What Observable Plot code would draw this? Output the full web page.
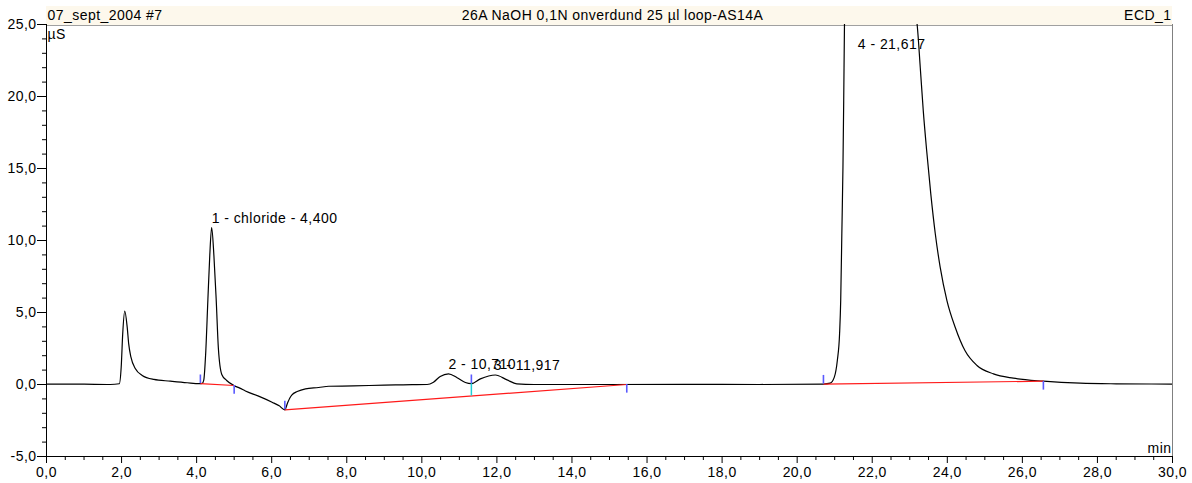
<!DOCTYPE html>
<html><head><meta charset="utf-8">
<script src="https://cdn.jsdelivr.net/npm/d3@7"></script>
<script src="https://cdn.jsdelivr.net/npm/@observablehq/plot@0.6"></script>
<style>
html,body{margin:0;padding:0;background:#fff;}
#chart svg text{letter-spacing:0.45px;}
</style></head><body><div id="chart"></div>
<script>
// Header texts
const headerLeft = "07_sept_2004 #7";
const headerCenter = "26A NaOH 0,1N onverdund 25 µl loop-AS14A";
const headerRight = "ECD_1";
const yUnit = "µS";
const xUnit = "min";

// Axis ticks
const xMajorTicks = [0, 2, 4, 6, 8, 10, 12, 14, 16, 18, 20, 22, 24, 26, 28, 30];
const xMinorTicks = [0.5,1,1.5,2.5,3,3.5,4.5,5,5.5,6.5,7,7.5,8.5,9,9.5,10.5,11,11.5,12.5,13,13.5,14.5,15,15.5,16.5,17,17.5,18.5,19,19.5,20.5,21,21.5,22.5,23,23.5,24.5,25,25.5,26.5,27,27.5,28.5,29,29.5];
const yMajorTicks = [-5, 0, 5, 10, 15, 20, 25];
const yMinorTicks = [-4,-3,-2,-1,1,2,3,4,6,7,8,9,11,12,13,14,16,17,18,19,21,22,23,24];

// Chromatogram (time in min, conductivity in µS)
const times = [0.0, 1.0, 1.70, 1.94, 1.99, 2.03, 2.085, 2.15, 2.19, 2.25, 2.37, 2.55, 2.86, 3.30, 3.75, 4.08,
  4.15, 4.19, 4.24, 4.30, 4.35, 4.40, 4.46, 4.52, 4.58, 4.67, 4.80, 5.00, 5.15, 5.30, 5.65, 6.01, 6.20, 6.35,
  6.42, 6.48, 6.54, 6.68, 6.90, 7.25, 7.52, 8.18, 9.00, 9.50, 10.14, 10.31, 10.49, 10.71, 10.94, 11.16, 11.32,
  11.56, 11.96, 12.27, 12.53, 13.0, 15.0, 17.0, 19.0, 20.70, 20.88, 20.99, 21.07, 21.13, 21.16, 21.19, 21.22,
  21.24, 21.26, 21.30, 21.40, 21.62, 21.90, 22.30, 22.70, 23.00, 23.20, 23.28, 23.36, 23.45, 23.56, 23.68,
  23.81, 23.99, 24.21, 24.47, 24.79, 25.23, 25.76, 26.56, 27.54, 28.5, 30.0];
const signal = [0.03, 0.02, 0.0, 0.05, 1.2, 3.5, 5.09, 3.98, 2.82, 1.9, 1.09, 0.63, 0.35, 0.23, 0.12, 0.06,
  0.08, 0.3, 2.1, 5.9, 8.96, 10.9, 8.96, 5.95, 2.48, 0.7, 0.28, -0.08, -0.25, -0.45, -0.81, -1.23, -1.48, -1.76,
  -1.3, -0.95, -0.72, -0.49, -0.30, -0.21, -0.12, -0.10, -0.04, -0.02, 0.0, 0.16, 0.56, 0.74, 0.47, 0.14, 0.06,
  0.39, 0.66, 0.32, 0.05, 0.0, 0.0, 0.01, 0.0, 0.03, 0.09, 0.51, 1.67, 3.52, 5.83, 10.47, 15.1,
  19.7, 24.9, 30, 36, 41, 39, 35, 31, 27.5, 24.9, 22.0, 19.0, 16.25, 13.24, 10.47,
  8.15, 5.83, 3.98, 2.36, 1.32, 0.74, 0.44, 0.23, 0.09, 0.05, 0.03];

// Peaks
const peakTimes = [4.400, 10.710, 11.917, 21.617];
const peakLabels = ["1 - chloride - 4,400", "2 - 10,710", "3 - 11,917", "4 - 21,617"];
const peakApex = [10.9, 0.74, 0.66, 41];

// Integration baselines (start/end time and value)
const baseStartT = [4.10, 6.35, 20.70];
const baseStartV = [0.06, -1.76, 0.03];
const baseEndT = [5.00, 15.46, 26.56];
const baseEndV = [-0.07, 0.0, 0.23];

// Peak delimiter markers (time, value, direction: 1 up, -1 down)
const markT = [4.10, 5.00, 6.35, 11.32, 15.46, 20.70, 26.56];
const markV = [0.06, -0.07, -1.76, 0.06, 0.0, 0.03, 0.21];
const markDir = [1, -1, 1, 1, -1, 1, -1];

// Valley drop line between peaks 2 and 3
const dropT = [11.32];
const dropFrom = [0.06];
const dropTo = [-0.80];

const fmt = d => d.toFixed(1).replace(".", ",");
const YMAX = 25;

const curve = times.map((t, i) => ({t, v: signal[i]}));
const peaks = peakTimes.map((t, i) => ({t, label: peakLabels[i], v: peakApex[i]}));
const bases = baseStartT.map((t, i) => ({t1: t, v1: baseStartV[i], t2: baseEndT[i], v2: baseEndV[i]}));
const marks = markT.map((t, i) => ({t, v: markV[i], dir: markDir[i]}));
const drops = dropT.map((t, i) => ({t, a: dropFrom[i], b: dropTo[i]}));

const font = "Liberation Sans, Arial, Helvetica, sans-serif";

const chart = Plot.plot({
  width: 1192,
  height: 483,
  marginLeft: 46,
  marginRight: 20,
  marginTop: 24,
  marginBottom: 27,
  x: {domain: [0, 30], axis: null},
  y: {domain: [-5, 25], axis: null},
  style: {fontFamily: font, fontSize: "14px", color: "black", background: "white", overflow: "visible"},
  marks: [
    // axes
    Plot.axisY({ticks: yMajorTicks, tickSize: 9, tickPadding: 1, tickFormat: fmt, label: null, fontSize: 14}),
    Plot.axisY({ticks: yMinorTicks, tickSize: 4, tickFormat: () => "", label: null}),
    Plot.axisX({ticks: xMajorTicks, tickSize: 7, tickPadding: 4, tickFormat: fmt, label: null, fontSize: 14}),
    Plot.axisX({ticks: xMinorTicks, tickSize: 4, tickFormat: () => "", label: null}),
    Plot.ruleX([30], {y1: -5, y2: 25, stroke: "#808080"}),
    Plot.ruleX([0], {y1: -5, y2: 25, stroke: "black"}),
    Plot.ruleY([-5], {x1: 0, x2: 30, stroke: "black"}),
    // signal
    Plot.line(curve, {x: "t", y: "v", curve: "monotone-x", stroke: "black", strokeWidth: 1.2, clip: true}),
    // baselines
    Plot.link(bases, {x1: "t1", y1: "v1", x2: "t2", y2: "v2", stroke: "#ff1a1a", strokeWidth: 1.2}),
    Plot.ruleX(drops, {x: "t", y1: "a", y2: "b", stroke: "#20d0d8", strokeWidth: 1.5}),
    Plot.ruleX(marks, {x: "t", y1: "v", y2: d => d.v + d.dir * 0.6, stroke: "#5a5aff", strokeWidth: 1.6}),
    // peak labels
    Plot.text(peaks.filter(d => d.v <= YMAX), {x: "t", y: "v", text: "label", textAnchor: "start", lineAnchor: "bottom", dy: -5, fill: "black", fontSize: 14}),
    Plot.text(peaks.filter(d => d.v > YMAX), {x: "t", y: () => YMAX, text: "label", textAnchor: "start", lineAnchor: "bottom", dy: 24, fill: "black", fontSize: 14}),
    // units
    Plot.text([yUnit], {frameAnchor: "top-left", text: d => d, textAnchor: "start", lineAnchor: "bottom", dx: 1, dy: 14.5, fontSize: 14}),
    Plot.text([xUnit], {frameAnchor: "bottom-right", text: d => d, textAnchor: "end", lineAnchor: "bottom", dx: -1, dy: -3.5, fontSize: 14}),
    // header texts
    Plot.text([headerLeft], {frameAnchor: "top-left", text: d => d, textAnchor: "start", lineAnchor: "bottom", dx: 1, dy: -4.5, fontSize: 14}),
    Plot.text([headerCenter], {frameAnchor: "top", text: d => d, textAnchor: "middle", lineAnchor: "bottom", dx: 3, dy: -4.5, fontSize: 14}),
    Plot.text([headerRight], {frameAnchor: "top-right", text: d => d, textAnchor: "end", lineAnchor: "bottom", dx: -1, dy: -4.5, fontSize: 14})
  ]
});

// header band behind everything
const svg = d3.select(chart);
const band = svg.insert("g", "g");
band.append("rect").attr("x", 46).attr("y", 6).attr("width", 1192 - 46 - 20).attr("height", 19).attr("fill", "#fdf8ec");
band.append("line").attr("x1", 46).attr("x2", 1172).attr("y1", 25.5).attr("y2", 25.5).attr("stroke", "#a0a0a0");

document.getElementById("chart").appendChild(chart);
</script>
</body></html>
